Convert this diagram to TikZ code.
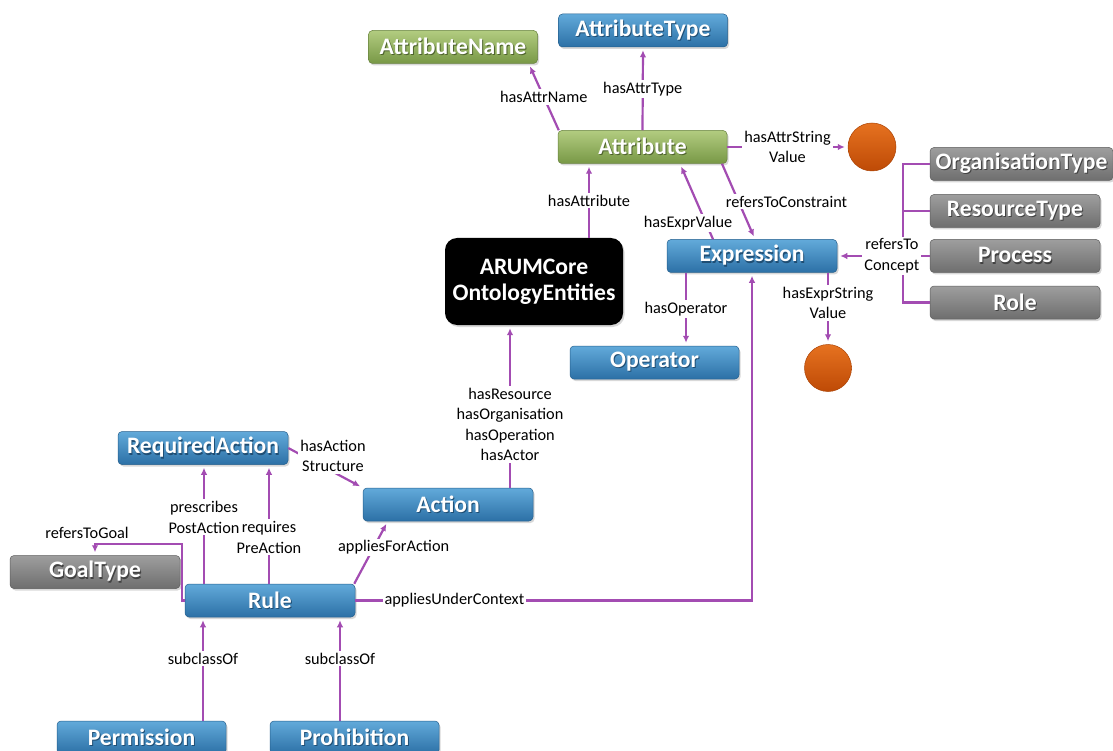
\documentclass[tikz,border=0pt]{standalone}
\usepackage{fontspec}
\setmainfont{Carlito}
\usetikzlibrary{arrows.meta,shadows,calc}

\definecolor{relc}{RGB}{163,76,178}
\definecolor{blueT}{RGB}{98,170,218}
\definecolor{blueB}{RGB}{44,112,166}
\definecolor{greenT}{RGB}{178,204,128}
\definecolor{greenB}{RGB}{120,152,70}
\definecolor{grayT}{RGB}{158,158,158}
\definecolor{grayB}{RGB}{110,110,110}
\definecolor{orT}{RGB}{230,114,32}
\definecolor{orB}{RGB}{190,74,6}
\colorlet{shc}{black}

\newcommand\boxfont{\bfseries\fontsize{23.6}{26}\selectfont}
\newcommand\relfont{\fontsize{16.3}{20.6}\selectfont}
% white box text with a dark shadow behind it (shadow colour set per box style)
\newcommand\shtxt[1]{\rlap{\hspace{1pt}\raisebox{-1.2pt}{\color{shc}#1}}#1}

\tikzset{
  box/.style={rounded corners=4pt, minimum width=169pt, minimum height=33pt,
    inner sep=0pt, text=white, font=\boxfont,
    drop shadow={opacity=0.3, shadow xshift=1.5pt, shadow yshift=-2pt}},
  bluebox/.style={box, top color=blueT, bottom color=blueB, draw=blueB!85!black, line width=0.5pt,
    execute at begin node={\colorlet{shc}{blueB!70!black}}},
  greenbox/.style={box, top color=greenT, bottom color=greenB, draw=greenB!85!black, line width=0.5pt,
    execute at begin node={\colorlet{shc}{greenB!65!black}}},
  graybox/.style={box, top color=grayT, bottom color=grayB, draw=grayB!85!black, line width=0.5pt,
    execute at begin node={\colorlet{shc}{grayB!60!black}}},
  valball/.style={circle, minimum size=48pt, inner sep=0pt, top color=orT, bottom color=orB,
    draw=orB!90!black, line width=0.5pt},
  rootbox/.style={rounded corners=12pt, fill=black, text=white, font=\boxfont, align=center,
    minimum width=178pt, minimum height=87pt, inner sep=0pt,
    drop shadow={opacity=0.3, shadow xshift=1.5pt, shadow yshift=-2pt}},
  relline/.style={draw=relc, line width=2.2pt},
  rel/.style={relline, -{Latex[length=7pt,width=6.5pt]}, shorten >=3pt},
  lbl/.style={font=\relfont, fill=white, inner sep=2pt, align=center, text=black},
}

\begin{document}
\begin{tikzpicture}[x=1pt, y=-1pt]
\useasboundingbox (0,0) rectangle (1113,751);
\clip (0,0) rectangle (1113,751);
\fill[white] (0,0) rectangle (1113,751);

% ---- attribute cluster
\node[greenbox] (AN)   at (453,47)    {\shtxt{AttributeName}};
\node[bluebox]  (AT)   at (643,30.5)  {\shtxt{AttributeType}};
\node[greenbox] (Attr) at (642.5,147) {\shtxt{Attribute}};
\node[valball]  (v1)   at (872,147)   {};

% ---- concepts
\node[graybox, minimum width=183pt] (OT)   at (1021.5,164) {\shtxt{OrganisationType}};
\node[graybox, minimum width=170pt] (RT)   at (1015,211)   {\shtxt{ResourceType}};
\node[graybox, minimum width=170pt] (Proc) at (1015,256)   {\shtxt{Process}};
\node[graybox, minimum width=170pt] (Role) at (1015,302.5) {\shtxt{Role}};

% ---- expression cluster
\node[bluebox, minimum width=170pt] (Expr) at (752,256)   {\shtxt{Expression}};
\node[bluebox] (Op)   at (654.5,362.5) {\shtxt{Operator}};
\node[valball, minimum size=47pt] (v2) at (828,368) {};

\node[rootbox] (ARUM) at (534,281.5) {ARUMCore\\OntologyEntities};

% ---- rule cluster
\node[bluebox, minimum width=170pt] (RA)   at (203,448)    {\shtxt{RequiredAction}};
\node[bluebox, minimum width=170pt] (Act)  at (448,504.5)  {\shtxt{Action}};
\node[graybox, minimum width=170pt] (GT)   at (95,572)     {\shtxt{GoalType}};
\node[bluebox, minimum width=170pt] (Rule) at (270,600.5)  {\shtxt{Rule}};
\node[bluebox] (Perm) at (141.5,737.5) {\shtxt{Permission}};
\node[bluebox] (Proh) at (354.5,737.5) {\shtxt{Prohibition}};

% ---- relations around Attribute
\draw[rel] ([xshift=1pt]Attr.north west) -- node[lbl]{hasAttrName} ([xshift=-9pt]AN.south east);
\draw[rel] (Attr.north) -- node[lbl]{hasAttrType} (AT.south);
\draw[rel] (Attr.east) -- node[lbl]{hasAttrString\\Value} (v1.west);
\draw[rel] ([xshift=55pt]ARUM.north) -- node[lbl]{hasAttribute} ([xshift=55pt]ARUM.north |- Attr.south);
\draw[rel] ([xshift=-39pt]Expr.north) -- node[lbl,pos=.21,xshift=-18pt]{hasExprValue} ([xshift=37.5pt]Attr.south);
\draw[rel] ([xshift=79.5pt]Attr.south) -- node[lbl,pos=.5,xshift=48pt]{refersToConstraint} ([xshift=3pt]Expr.north);

% ---- concept bracket
\draw[relline] (OT.west) -- ++(-27,0) |- (Role.west);
\draw[relline] (RT.west) -- ++(-27,0);
\draw[rel] (Proc.west) -- node[lbl,pos=.41]{refersTo\\Concept} (Expr.east);

% ---- relations of Expression
\draw[rel] ([xshift=-66pt]Expr.south) -- node[lbl]{hasOperator} ([xshift=-66pt]Expr.south |- Op.north);
\draw[rel] (v2.north |- Expr.south) -- node[lbl,pos=.42]{hasExprString\\Value} (v2.north);

% ---- Action to core entities
\draw[rel] ([xshift=62pt]Act.north) -- node[lbl,pos=.39]{hasResource\\hasOrganisation\\hasOperation\\hasActor} ([xshift=62pt]Act.north |- ARUM.south);
\draw[rel] (RA.east) -- node[lbl,pos=.6,yshift=16pt]{hasAction\\Structure} (Act.north west);

% ---- relations of Rule
\draw[rel] ([xshift=-1pt]Rule.north) -- node[lbl,pos=.39]{requires\\PreAction} ([xshift=-1pt]Rule.north |- RA.south);
\draw[rel] ([xshift=-66pt]Rule.north) -- node[lbl,pos=.56]{prescribes\\PostAction} ([xshift=-66pt]Rule.north |- RA.south);
\draw[rel] ([xshift=-1pt]Rule.north east) -- node[lbl,pos=.58,xshift=20pt]{appliesForAction} ([xshift=25pt]Act.south west);
\draw[rel] (Rule.east) -| node[lbl,pos=.125]{appliesUnderContext} (Expr.south);
\draw[rel] (Rule.west) -- ++(-3,0) |- ([yshift=11pt]GT.north) -- (GT.north);
\node[lbl, fill=none] (goalLbl) at ([shift={(-8pt,22pt)}]GT.north) {refersToGoal};

% ---- subclasses
\draw[rel] ([xshift=61.5pt]Perm.north) -- node[lbl,pos=.6]{subclassOf} ([xshift=61.5pt]Perm.north |- Rule.south);
\draw[rel] ([xshift=-14.5pt]Proh.north) -- node[lbl,pos=.6]{subclassOf} ([xshift=-14.5pt]Proh.north |- Rule.south);
\end{tikzpicture}
\end{document}
